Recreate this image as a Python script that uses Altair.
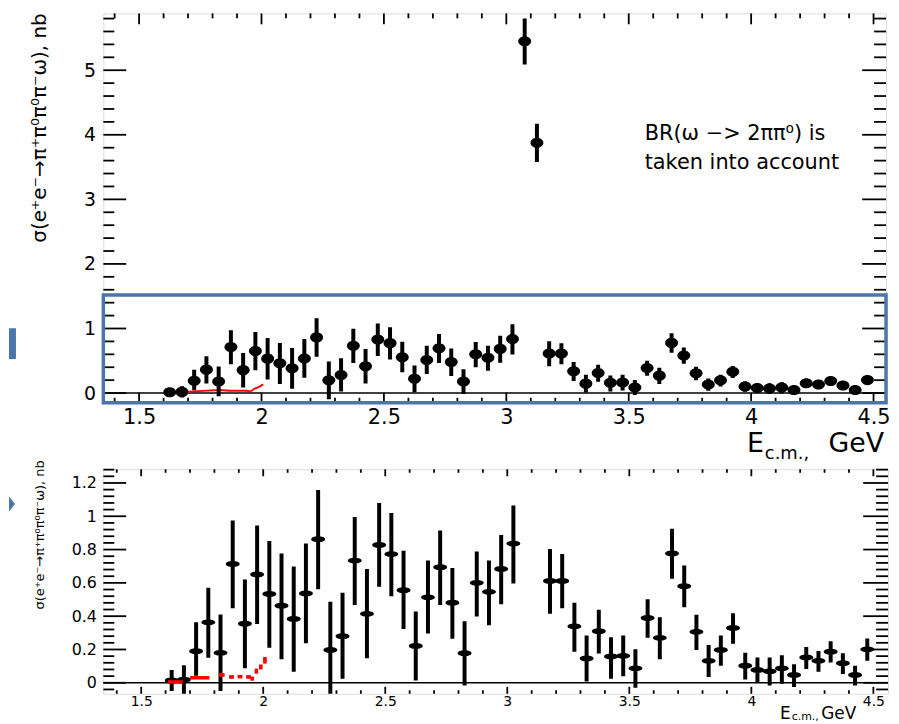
import altair as alt
import pandas as pd

# ---------------- data ----------------
E_CM = [1.625, 1.675, 1.725, 1.775, 1.825, 1.875, 1.925, 1.975, 2.025, 2.075,
        2.125, 2.175, 2.225, 2.275, 2.325, 2.375, 2.425, 2.475, 2.525, 2.575,
        2.625, 2.675, 2.725, 2.775, 2.825, 2.875, 2.925, 2.975, 3.025, 3.075,
        3.125, 3.175, 3.225, 3.275, 3.325, 3.375, 3.425, 3.475, 3.525, 3.575,
        3.625, 3.675, 3.725, 3.775, 3.825, 3.875, 3.925, 3.975, 4.025, 4.075,
        4.125, 4.175, 4.225, 4.275, 4.325, 4.375, 4.425, 4.475]
SIGMA = [0.014, 0.018, 0.19, 0.363, 0.18, 0.714, 0.355, 0.651, 0.533, 0.463,
         0.383, 0.536, 0.862, 0.197, 0.28, 0.734, 0.414, 0.828, 0.773, 0.556,
         0.221, 0.513, 0.694, 0.481, 0.178, 0.6, 0.546, 0.684, 0.836, 5.45,
         3.877, 0.611, 0.611, 0.339, 0.146, 0.31, 0.158, 0.162, 0.087, 0.389,
         0.27, 0.777, 0.58, 0.306, 0.132, 0.197, 0.329, 0.103, 0.077, 0.069,
         0.087, 0.047, 0.152, 0.132, 0.187, 0.118, 0.047, 0.201]
ERR_LO = [-0.05, -0.07, 0.043, 0.15, -0.05, 0.448, 0.087, 0.353, 0.211, 0.142,
          0.067, 0.237, 0.562, -0.095, 0.024, 0.467, 0.148, 0.576, 0.52, 0.323,
          0.014, 0.296, 0.467, 0.264, -0.016, 0.398, 0.345, 0.471, 0.596, 5.09,
          3.58, 0.414, 0.448, 0.187, 0.008, 0.176, 0.024, 0.039, -0.03, 0.27,
          0.142, 0.625, 0.454, 0.197, 0.034, 0.103, 0.235, 0.02, 0.0, -0.016,
          -0.006, -0.026, 0.083, 0.067, 0.122, 0.053, -0.016, 0.132]
ERR_HI = [0.077, 0.106, 0.363, 0.57, 0.41, 0.974, 0.62, 0.945, 0.852, 0.777,
          0.698, 0.836, 1.158, 0.487, 0.54, 0.996, 0.684, 1.079, 1.02, 0.793,
          0.428, 0.734, 0.915, 0.69, 0.369, 0.789, 0.734, 0.888, 1.065, 5.80,
          4.17, 0.803, 0.773, 0.481, 0.284, 0.438, 0.274, 0.284, 0.201, 0.501,
          0.393, 0.925, 0.704, 0.408, 0.227, 0.284, 0.418, 0.181, 0.152, 0.152,
          0.166, 0.112, 0.215, 0.191, 0.25, 0.178, 0.103, 0.266]

RED_E = [1.64, 1.74, 1.83, 1.87, 1.905, 1.94, 1.955, 1.972, 1.99, 2.007]
RED_SIGMA = [0.005, 0.03, 0.047, 0.035, 0.037, 0.035, 0.025, 0.07, 0.095, 0.135]
RED_DE = [0.03, 0.04, 0.012, 0.01, 0.01, 0.01, 0.006, 0.006, 0.006, 0.006]
RED_DS = [0.004, 0.006, 0.008, 0.008, 0.008, 0.008, 0.012, 0.015, 0.015, 0.02]

X_MAJOR = [1.5, 2.0, 2.5, 3.0, 3.5, 4.0, 4.5]
Y_TOP_MAJOR = [0, 1, 2, 3, 4, 5]
Y_BOT_MAJOR = [0, 0.2, 0.4, 0.6, 0.8, 1.0, 1.2]
HIGHLIGHT = {"x0": [1.354], "x1": [4.551], "y0": [-0.15], "y1": [1.52]}

Y_TITLE = "σ(e⁺e⁻→π⁺π⁰π⁰π⁻ω), nb"
NOTE = ["BR(ω −> 2ππ⁰) is", "taken into account"]

BLUE = "#4a76a9"
FONT = "DejaVu Sans"


def minors(majors, step, lo, hi):
    out = []
    for m in [majors[0] - (majors[1] - majors[0])] + list(majors):
        for k in range(1, 5):
            v = round(m + k * step, 4)
            if lo < v < hi:
                out.append(v)
    return out


df = pd.DataFrame({"E": E_CM, "s": SIGMA, "lo": ERR_LO, "hi": ERR_HI})
red = pd.DataFrame({"E": RED_E, "s": RED_SIGMA, "de": RED_DE, "ds": RED_DS})
red["elo"] = red["E"] - red["de"]
red["ehi"] = red["E"] + red["de"]
red["slo"] = red["s"] - red["ds"]
red["shi"] = red["s"] + red["ds"]


def txt(s, **kw):
    return alt.Chart(pd.DataFrame({"t": [s]})).mark_text(font=FONT, color="black", **kw)


def panel(W, H, xdom, ydom, ymajor, ystep, label_fs, xlab_fs, ylab_pad, xlab_pad,
          ell_ratio, msize, xt, yt, bottom):
    xs = alt.Scale(domain=xdom, nice=False, zero=False)
    ys = alt.Scale(domain=ydom, nice=False, zero=False)
    xmin = minors(X_MAJOR, 0.1, xdom[0], xdom[1])
    ymin = minors(ymajor, ystep, ydom[0], ydom[1])

    ell = f"M-1,0A1,{ell_ratio},0,1,1,1,0A1,{ell_ratio},0,1,1,-1,0Z"

    errs = alt.Chart(df).mark_rule(color="black", strokeWidth=4, clip=True).encode(
        x=alt.X("E:Q", scale=xs,
                axis=alt.Axis(values=X_MAJOR, format="~g", ticks=False, domain=False,
                              grid=False, labelFontSize=xlab_fs, labelPadding=xlab_pad,
                              labelFlush=False, labelColor="black", labelFont=FONT,
                              title=None)),
        y=alt.Y("lo:Q", scale=ys,
                axis=alt.Axis(values=ymajor, format="~g", ticks=False, domain=False,
                              grid=False, labelFontSize=label_fs, labelPadding=ylab_pad,
                              labelColor="black", labelFont=FONT, title=None)),
        y2="hi:Q",
    )
    pts = alt.Chart(df).mark_point(shape=ell, filled=True, color="black", opacity=1,
                                   size=msize, clip=True).encode(
        x=alt.X("E:Q", scale=xs, axis=None), y=alt.Y("s:Q", scale=ys, axis=None))

    zero = alt.Chart(pd.DataFrame({"z": [0]})).mark_rule(color="black", strokeWidth=1.5).encode(
        y=alt.Y("z:Q", scale=ys, axis=None), x=alt.value(0), x2=alt.value(W))

    layers = [zero]

    # ticks (inward, ROOT style)
    for vals, (lt, lb) in ((X_MAJOR, xt[0]), (xmin, xt[1])):
        d = pd.DataFrame({"t": vals})
        layers.append(alt.Chart(d).mark_rule(color="black", strokeWidth=1.8).encode(
            x=alt.X("t:Q", scale=xs, axis=None), y=alt.value(0), y2=alt.value(lt)))
        layers.append(alt.Chart(d).mark_rule(color="black", strokeWidth=1.8).encode(
            x=alt.X("t:Q", scale=xs, axis=None), y=alt.value(H), y2=alt.value(H - lb)))
    for vals, (ll, lr) in ((ymajor, yt[0]), (ymin, yt[1])):
        d = pd.DataFrame({"t": vals})
        layers.append(alt.Chart(d).mark_rule(color="black", strokeWidth=1.8).encode(
            y=alt.Y("t:Q", scale=ys, axis=None), x=alt.value(0), x2=alt.value(ll)))
        layers.append(alt.Chart(d).mark_rule(color="black", strokeWidth=1.8).encode(
            y=alt.Y("t:Q", scale=ys, axis=None), x=alt.value(W), x2=alt.value(W - lr)))

    if not bottom:
        red_line = alt.Chart(red).mark_line(color="#ff0000", strokeWidth=2).encode(
            x=alt.X("E:Q", scale=xs, axis=None), y=alt.Y("s:Q", scale=ys, axis=None))
        layers = layers + [red_line, errs, pts]
        box = alt.Chart(pd.DataFrame(HIGHLIGHT)).mark_rect(
            filled=False, stroke=BLUE, strokeWidth=3.5).encode(
            x=alt.X("x0:Q", scale=xs, axis=None), x2="x1:Q",
            y=alt.Y("y0:Q", scale=ys, axis=None), y2="y1:Q")
        layers.append(box)
        layers.append(alt.Chart(pd.DataFrame({"a": [0]})).mark_rect(color=BLUE).encode(
            x=alt.value(-95), x2=alt.value(-88), y=alt.value(317), y2=alt.value(348)))
        layers.append(txt(Y_TITLE, angle=270, align="right", baseline="bottom",
                          fontSize=20).encode(text="t:N", x=alt.value(-54), y=alt.value(0)))
        layers.append(txt(NOTE[0], align="left", baseline="alphabetic", fontSize=21).encode(
            text="t:N", x=alt.value(545), y=alt.value(127)))
        layers.append(txt(NOTE[1], align="left", baseline="alphabetic", fontSize=21).encode(
            text="t:N", x=alt.value(545), y=alt.value(157)))
        layers.append(txt("GeV", align="right", baseline="alphabetic", fontSize=27).encode(
            text="t:N", x=alt.value(786), y=alt.value(442)))
        layers.append(txt("c.m.,", align="left", baseline="alphabetic", fontSize=18).encode(
            text="t:N", x=alt.value(666), y=alt.value(449)))
        layers.append(txt("E", align="right", baseline="alphabetic", fontSize=27).encode(
            text="t:N", x=alt.value(665), y=alt.value(442)))
    else:
        rx = alt.Chart(red).mark_rule(color="#ff0000", strokeWidth=3.5).encode(
            x=alt.X("elo:Q", scale=xs, axis=None), x2="ehi:Q",
            y=alt.Y("s:Q", scale=ys, axis=None))
        ry = alt.Chart(red).mark_rule(color="#ff0000", strokeWidth=3.5).encode(
            x=alt.X("E:Q", scale=xs, axis=None),
            y=alt.Y("slo:Q", scale=ys, axis=None), y2="shi:Q")
        layers = layers + [errs, pts, rx, ry]
        tri = "M0,-1.25L1,0L0,1.25Z"
        layers.append(alt.Chart(pd.DataFrame({"a": [0]})).mark_point(
            shape=tri, filled=True, color=BLUE, opacity=1, size=144).encode(
            x=alt.value(-95), y=alt.value(35)))
        layers.append(txt(Y_TITLE, angle=270, align="right", baseline="bottom",
                          fontSize=13).encode(text="t:N", x=alt.value(-57), y=alt.value(-9)))
        layers.append(txt("GeV", align="right", baseline="alphabetic", fontSize=17).encode(
            text="t:N", x=alt.value(758), y=alt.value(251)))
        layers.append(txt("c.m.,", align="left", baseline="alphabetic", fontSize=11).encode(
            text="t:N", x=alt.value(693), y=alt.value(252)))
        layers.append(txt("E", align="right", baseline="alphabetic", fontSize=17).encode(
            text="t:N", x=alt.value(692), y=alt.value(251)))

    return alt.layer(*layers).resolve_axis(x="independent", y="independent").properties(
        width=W, height=H)


top = panel(788, 392, [1.354, 4.551], [-0.15, 5.88], Y_TOP_MAJOR, 0.2,
            19, 21, 8, 4, 0.78, 169,
            xt=((11, 10), (5, 5)), yt=((23, 24), (11, 12)), bottom=False)
bot = panel(790, 226, [1.345, 4.56], [-0.066, 1.282], Y_BOT_MAJOR, 0.04,
            16, 14, 7, 1, 0.42, 196,
            xt=((7, 7), (3.5, 3.5)), yt=((23, 25), (11, 12)), bottom=True)

chart = alt.vconcat(top, bot, spacing=67, bounds="flush").properties(
    padding={"left": 0, "top": 1, "right": 0, "bottom": 0}
).configure_view(stroke="black", strokeWidth=2.5).configure(font=FONT)

chart.save("out.html", embed_options={"renderer": "svg", "actions": False})
